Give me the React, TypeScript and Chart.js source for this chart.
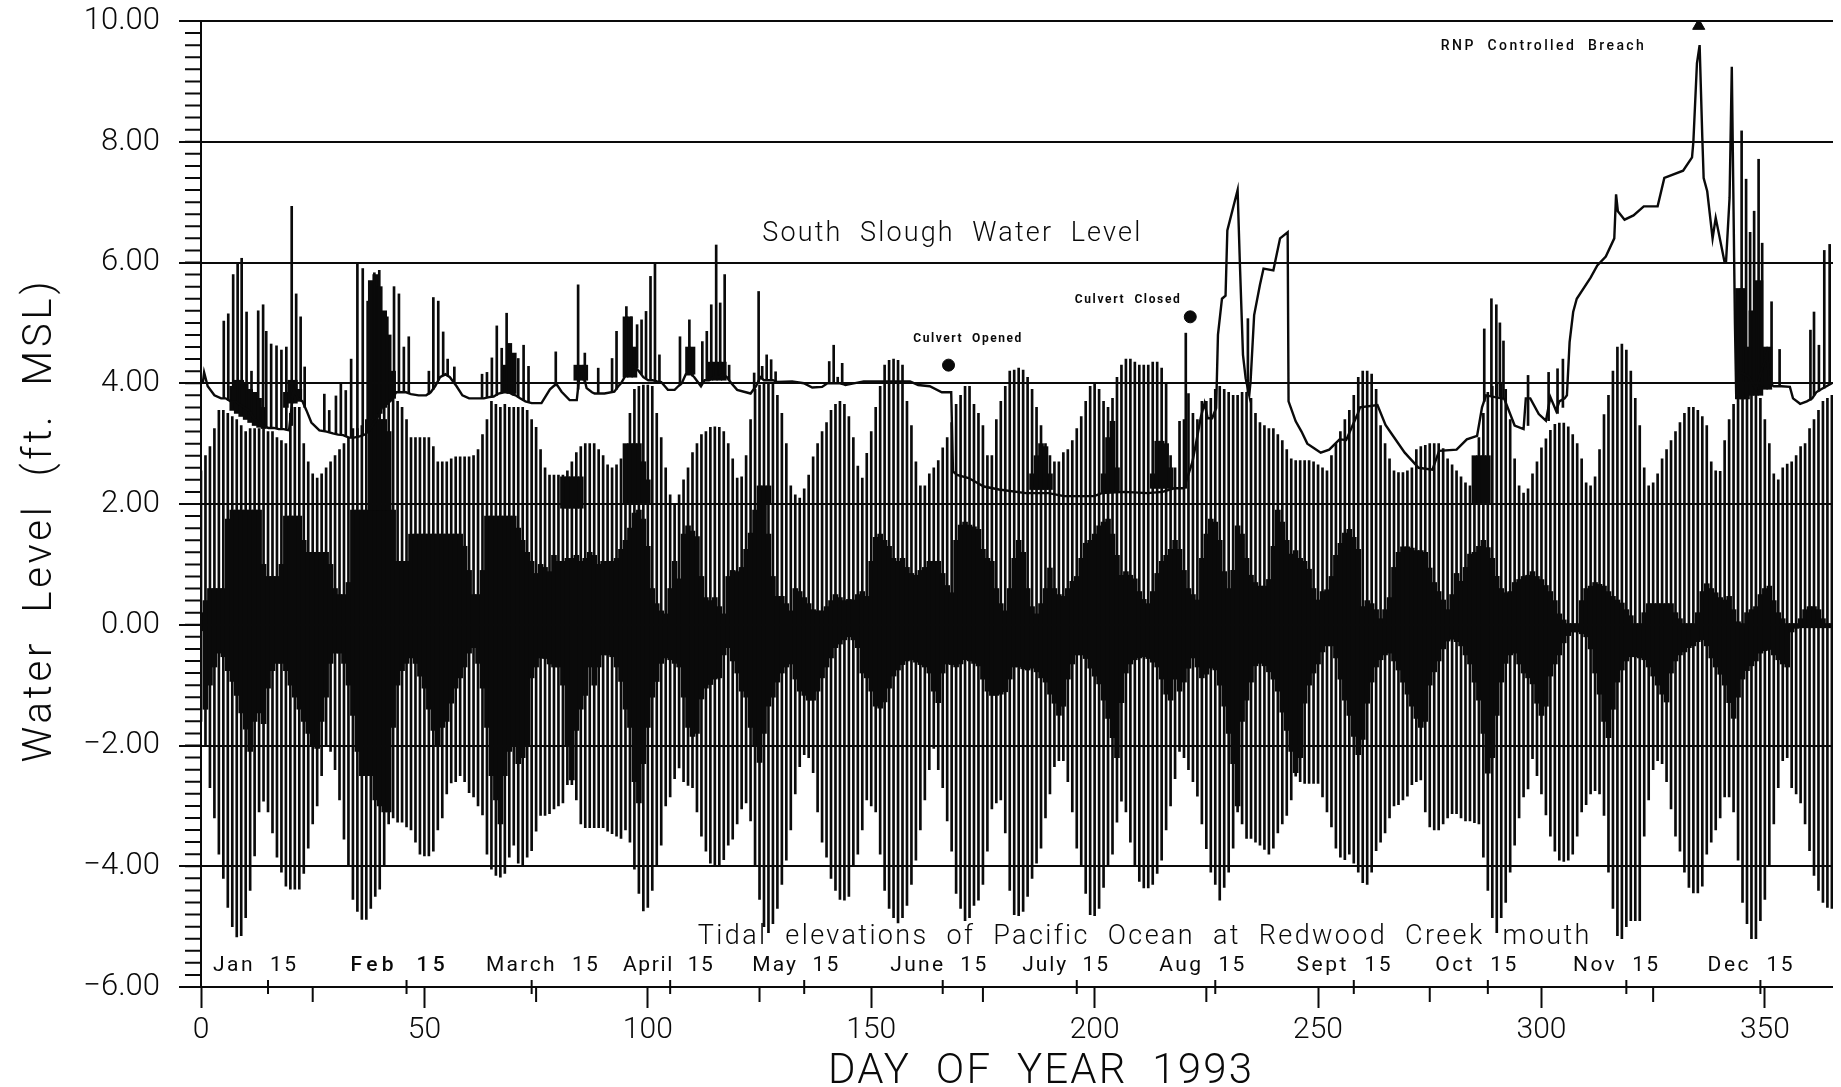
import React, { useEffect, useRef } from "react";
import { Chart, registerables } from "chart.js";

Chart.register(...registerables);

// Upper and lower reach of the tidal trace, one reading per day of year (rows of ten days).
const tideHigh = [
  2.55,2.8,2.95,3.25,3.55,3.55,3.5,3.45,3.4,3.3,
  3.2,3.25,3.25,3.25,3.25,3.2,3.2,3.1,3.05,3,
  3.5,3.6,3.6,3,2.7,2.5,2.43,2.5,2.6,2.7,
  2.8,2.9,3,3.1,3.25,3.25,3.3,3.4,3.55,3.6,
  3.6,3.7,3.8,3.8,3.7,3.6,3.4,3.1,3.1,3.1,
  3.1,3.1,2.95,2.7,2.7,2.7,2.75,2.78,2.78,2.78,
  2.78,2.8,2.9,3.15,3.4,3.7,3.65,3.6,3.65,3.6,
  3.6,3.6,3.6,3.55,3.4,3.27,2.9,2.6,2.48,2.48,
  2.48,2.48,2.55,2.7,2.85,2.95,3,3,3,2.9,
  2.8,2.65,2.6,2.65,2.75,2.9,3.5,3.9,3.95,3.97,
  3.97,3.95,3.5,3.1,2.6,2.15,2,2.15,2.4,2.6,
  2.85,3,3.15,3.2,3.27,3.28,3.27,3.2,3,2.75,
  2.43,2.45,2.8,3.4,3.9,3.97,4,4,4,3.8,
  3.5,3,2.3,2.15,2.1,2.25,2.48,2.78,3,3.2,
  3.35,3.55,3.65,3.7,3.65,3.45,3.1,2.63,2.43,2.84,
  3.2,3.6,3.95,4.3,4.38,4.4,4.38,4.3,3.7,3.3,
  2.7,2.3,2.3,2.5,2.6,2.72,2.93,3.1,3.35,3.65,
  3.8,3.95,3.95,3.65,3.5,3.3,2.8,2.8,3.4,3.7,
  3.95,4.2,4.22,4.25,4.22,4.1,3.9,3.6,3.3,3,
  2.8,2.7,2.7,2.85,2.9,3.05,3.25,3.45,3.7,3.95,
  4,3.9,3.7,3.6,3.75,4.1,4.3,4.4,4.4,4.35,
  4.3,4.3,4.3,4.35,4.35,4.25,4,2.8,2.6,3.37,
  3.4,3.83,3.5,3.4,3.7,3.7,3.75,3.9,3.95,3.9,
  3.85,3.8,3.8,3.85,3.85,3.75,3.5,3.35,3.3,3.25,
  3.25,3.15,3.05,2.9,2.75,2.72,2.72,2.72,2.72,2.7,
  2.65,2.6,2.55,2.8,3,3.2,3.4,3.55,3.8,4.1,
  4.2,4.2,4.15,3.9,3.3,3,2.75,2.55,2.52,2.52,
  2.55,2.6,2.9,2.95,2.97,3,3,3,2.92,2.75,
  2.65,2.55,2.45,2.35,2.3,2.45,3.1,3.5,3.85,3.95,
  4,4,3.9,3.4,2.75,2.3,2.18,2.25,2.5,2.7,
  2.93,3.08,3.22,3.32,3.34,3.34,3.28,3.15,3,2.75,
  2.35,2.3,2.45,2.9,3.48,3.8,4.2,4.6,4.65,4.55,
  4.2,3.75,3.3,2.6,2.3,2.35,2.5,2.75,2.9,3.05,
  3.2,3.35,3.5,3.6,3.6,3.55,3.45,3.3,2.7,2.55,
  2.54,3.05,3.4,3.65,3.9,4,4,4,3.95,3.75,
  3.4,3,2.5,2.4,2.6,2.66,2.7,2.8,2.95,3,
  3.25,3.4,3.55,3.7,3.75,3.8,
];

const tideLow = [
  -1.6,-2,-2.7,-3.2,-3.8,-4.2,-4.68,-5,-5.17,-5.15,
  -4.85,-4.4,-3.83,-3.1,-2.92,-3.1,-3.45,-3.85,-4.1,-4.33,
  -4.38,-4.38,-4.38,-4.12,-3.7,-3.3,-3,-2.5,-2,-2.1,
  -2.4,-2.9,-3.55,-4,-4.55,-4.75,-4.88,-4.88,-4.7,-4.5,
  -4.38,-4,-3.3,-3.2,-3.27,-3.27,-3.35,-3.4,-3.6,-3.8,
  -3.83,-3.83,-3.75,-3.4,-3.2,-2.8,-2.62,-2.6,-2.5,-2.6,
  -2.78,-2.85,-3,-3.15,-3.8,-4.05,-4.15,-4.18,-4.12,-3.85,
  -3.65,-3.95,-4,-3.85,-3.74,-3.42,-3.16,-3.16,-3.13,-3.05,
  -3,-2.95,-2.65,-2.65,-2.9,-3.3,-3.36,-3.36,-3.36,-3.36,
  -3.36,-3.42,-3.46,-3.5,-3.54,-3.4,-3.6,-4.05,-4.45,-4.74,
  -4.68,-4.4,-4,-3.65,-3,-2.85,-2.55,-2.37,-2.6,-2.66,
  -2.7,-3.1,-3.5,-3.75,-3.95,-3.98,-3.98,-3.89,-3.65,-3.55,
  -3.3,-3.05,-2.95,-3.25,-4,-4.55,-5,-5.1,-4.95,-4.7,
  -4.3,-3.9,-3.4,-2.8,-2.35,-2.15,-2.2,-2.45,-3.1,-3.6,
  -3.85,-4.2,-4.4,-4.55,-4.56,-4.5,-4,-3.8,-3.4,-2.9,
  -3,-3.1,-3.8,-4.4,-4.7,-4.85,-4.94,-4.85,-4.65,-4.3,
  -3.9,-3.4,-2.9,-2.4,-2.05,-2.4,-2.7,-3.25,-3.75,-4.45,
  -4.7,-4.9,-4.85,-4.65,-4.56,-4.3,-3.75,-3.05,-2.95,-2.9,
  -3.45,-4.4,-4.8,-4.82,-4.75,-4.5,-4.2,-3.95,-3.7,-3.2,
  -2.8,-2.35,-2.25,-2.25,-2.6,-3.1,-3.7,-4,-4.45,-4.8,
  -4.82,-4.7,-4.35,-4,-3.8,-3.27,-2.92,-3.1,-3.6,-4,
  -4.25,-4.36,-4.36,-4.3,-4.12,-3.9,-3.4,-3,-2.55,-2.1,
  -2.2,-2.4,-2.6,-2.84,-3.3,-3.71,-4.1,-4.3,-4.56,-4.35,
  -4.1,-3.7,-3.1,-3.3,-3.54,-3.54,-3.6,-3.65,-3.72,-3.8,
  -3.7,-3.45,-3.3,-3.16,-2.9,-2.51,-2.6,-2.63,-2.63,-2.63,
  -2.63,-2.85,-3.1,-3.35,-3.7,-3.85,-3.89,-3.8,-3.95,-4.1,
  -4.27,-4.3,-4.1,-3.74,-3.6,-3.45,-3.2,-3,-2.98,-2.9,
  -2.84,-2.65,-2.6,-2.57,-3.1,-3.35,-3.4,-3.4,-3.3,-3.2,
  -3.13,-3.13,-3.2,-3.25,-3.25,-3.28,-3.3,-3.85,-4.4,-4.85,
  -5.1,-4.85,-4.6,-4.1,-3.65,-3.2,-2.85,-2.72,-2.22,-2.5,
  -2.8,-3.15,-3.5,-3.75,-3.9,-3.92,-3.9,-3.8,-3.5,-3.1,
  -2.98,-2.8,-2.75,-2.8,-3.16,-4.1,-4.7,-5.15,-5.2,-5,
  -4.9,-4.9,-4.9,-3.5,-2.9,-2.4,-2.25,-2.3,-2.6,-3.05,
  -3.5,-3.75,-4.1,-4.35,-4.44,-4.44,-4.33,-3.8,-3.6,-3.4,
  -3.2,-2.85,-2.85,-3.1,-3.9,-4.6,-4.95,-5.2,-5.2,-4.9,
  -4.55,-4,-3.3,-2.7,-2.25,-2.2,-2.7,-2.8,-2.95,-3.3,
  -3.74,-4.15,-4.4,-4.6,-4.68,-4.7,
];

// Solid black core of the tidal trace, one reading per day of year.
const coreHigh = [
  0.2,0.4,0.6,0.6,0.6,0.6,1.75,1.9,1.9,1.9,
  1.9,1.9,1.9,1.9,1,0.8,0.8,0.8,1,1.8,
  1.8,1.8,1.8,1.4,1.2,1.2,1.2,1.2,1.2,1,
  0.6,0.5,0.5,0.7,1.9,1.9,1.9,1.9,1.9,1.9,
  1.9,1.9,1.9,1.9,1.05,1.05,1.05,1.5,1.5,1.5,
  1.5,1.5,1.5,1.5,1.5,1.5,1.5,1.5,1.5,1.3,
  0.9,0.5,0.5,0.9,1.8,1.8,1.8,1.8,1.8,1.8,
  1.8,1.6,1.4,1.2,1.05,0.85,1,0.95,0.88,1.15,
  1.05,1.05,1.1,1.1,1.15,1.05,1.1,1.2,1.15,1,
  1.05,1.05,1.05,1.1,1.25,1.4,1.6,1.85,1.9,1.75,
  1.3,0.6,0.35,0.23,0.18,0.6,1.05,0.76,1.5,1.64,
  1.55,1.46,0.8,0.45,0.4,0.45,0.3,0.18,0.8,0.9,
  0.88,0.95,1.25,1.52,1.9,2,2.2,1.5,0.8,0.47,
  0.47,0.35,0.23,0.6,0.55,0.45,0.35,0.25,0.23,0.23,
  0.3,0.4,0.5,0.45,0.4,0.42,0.41,0.5,0.55,0.47,
  1.05,1.45,1.5,1.4,1.3,1.1,1.05,1.1,0.95,0.85,
  0.82,0.9,0.95,1.05,1.05,1.05,0.85,0.65,0.53,1.4,
  1.65,1.7,1.65,1.62,1.58,1.25,1.1,1.05,0.6,0.35,
  0.23,0.6,1.1,1.4,1.2,0.6,0.3,0.18,0.35,0.6,
  0.94,0.6,0.5,0.47,0.6,0.72,0.8,1.1,1.35,1.4,
  1.5,1.64,1.7,1.75,1.5,1.15,0.82,0.88,0.82,0.76,
  0.55,0.42,0.35,0.55,0.85,1.05,1.15,1.25,1.4,1.25,
  0.9,0.6,0.5,0.41,1.1,1.5,1.75,1.7,1.4,0.88,
  0.6,0.9,1.64,1.5,1.1,0.82,0.7,0.64,0.64,0.75,
  1.3,1.9,1.7,1.4,1.17,1.23,1.1,1.05,0.92,0.6,
  0.41,0.55,0.58,0.8,1.15,1.35,1.52,1.58,1.45,1.25,
  0.3,0.4,0.35,0.25,0.1,0.25,0.45,0.95,1.2,1.29,
  1.29,1.27,1.23,1.23,1.2,0.94,0.7,0.55,0.41,0.25,
  0.5,0.85,0.72,0.95,1.17,1.2,1.3,1.4,1.28,1.1,
  0.8,0.6,0.53,0.55,0.7,0.75,0.8,0.82,0.88,0.8,
  0.75,0.65,0.55,0.4,0.18,0.08,0.02,0.02,0.02,0.4,
  0.6,0.64,0.7,0.67,0.64,0.55,0.47,0.41,0.36,0.25,
  0.15,0.02,0.02,0.2,0.35,0.35,0.35,0.35,0.35,0.35,
  0.2,0.1,0.02,0.02,0.02,0.2,0.55,0.68,0.6,0.53,
  0.45,0.41,0.47,0.25,0.05,0.02,0.2,0.25,0.3,0.5,
  0.6,0.64,0.4,0.2,0.1,0.02,0.02,0.02,0.1,0.25,
  0.3,0.3,0.25,0.1,0.02,0.02,
];

const coreLow = [
  -0.1,-1.4,-1,-0.7,-0.47,-0.53,-0.76,-0.94,-1.17,-1.46,
  -1.73,-2.1,-1.6,-1.46,-1.64,-1.05,-0.76,-0.64,-0.64,-0.76,
  -1,-1.2,-1.4,-1.6,-1.8,-2,-2.05,-1.6,-1.2,-0.64,
  -0.47,-0.47,-0.64,-1,-1.5,-2.1,-2.5,-2.5,-2.5,-2.9,
  -3,-3.1,-3.1,-1.7,-1,-0.76,-0.64,-0.55,-0.64,-0.85,
  -1.05,-1.4,-1.75,-2,-1.7,-1.6,-1.3,-1.05,-0.88,-0.7,
  -0.47,-0.38,-0.64,-1.05,-1.7,-2.5,-2.9,-3.3,-2.5,-2.1,
  -2,-2.3,-2.2,-2,-0.88,-0.7,-0.55,-0.56,-0.65,-0.7,
  -0.7,-1,-2,-2.57,-1.75,-1.4,-1.17,-0.7,-1,-0.7,
  -0.5,-0.5,-0.53,-0.7,-0.94,-1.4,-1.7,-2.6,-2.95,-2.3,
  -1.7,-1.2,-0.94,-0.64,-0.55,-0.58,-0.64,-0.7,-1.2,-1.7,
  -1.85,-1.8,-1.23,-1.05,-0.99,-0.9,-0.88,-0.5,-0.38,-0.6,
  -0.8,-1.1,-1.2,-1.7,-2,-2.28,-1.8,-1.35,-1.2,-0.95,
  -0.8,-0.7,-0.65,-0.9,-1.1,-1.17,-1.25,-1.25,-1.1,-0.88,
  -0.7,-0.55,-0.38,-0.32,-0.25,-0.2,-0.25,-0.38,-0.8,-0.88,
  -1.1,-1.35,-1.38,-1.28,-1.05,-0.85,-0.75,-0.66,-0.6,-0.58,
  -0.62,-0.66,-0.7,-0.8,-1.1,-1.29,-0.8,-0.65,-0.66,-0.7,
  -0.65,-0.58,-0.6,-0.64,-0.68,-0.9,-1.1,-1.17,-1.17,-1.15,
  -1.11,-0.9,-0.7,-0.7,-0.73,-0.75,-0.72,-0.78,-0.88,-0.95,
  -1.15,-1.3,-1.5,-1.35,-0.9,-0.65,-0.5,-0.5,-0.56,-0.72,
  -0.85,-0.98,-1.25,-1.55,-1.87,-2.2,-1.29,-0.8,-0.65,-0.58,
  -0.55,-0.53,-0.56,-0.62,-0.7,-0.9,-1.15,-1.25,-0.9,-1.1,
  -0.95,-0.72,-0.55,-0.7,-0.88,-0.82,-0.72,-0.75,-1,-1.35,
  -1.8,-2.3,-3,-1.6,-1.25,-0.95,-0.68,-0.64,-0.68,-0.78,
  -0.9,-1.1,-1.45,-1.75,-2.1,-2.45,-2.2,-1.3,-1,-0.8,
  -0.65,-0.45,-0.35,-0.35,-0.55,-0.9,-1.25,-1.5,-1.85,-2.15,
  -1.9,-1.3,-0.95,-0.7,-0.58,-0.5,-0.47,-0.6,-0.75,-0.95,
  -1.15,-1.35,-1.55,-1.7,-1.6,-1,-0.78,-0.6,-0.4,-0.27,
  -0.24,-0.28,-0.35,-0.5,-0.65,-0.95,-1.25,-1.8,-2.46,-2.2,
  -1.5,-0.95,-0.64,-0.5,-0.47,-0.65,-0.8,-0.88,-0.98,-1.3,
  -1.5,-1.35,-0.85,-0.65,-0.5,-0.3,-0.18,-0.12,-0.12,-0.15,
  -0.2,-0.4,-0.8,-1.15,-1.6,-1.87,-1.4,-0.95,-0.75,-0.6,
  -0.53,-0.53,-0.55,-0.58,-0.7,-0.85,-1,-1.15,-1.28,-0.8,
  -0.6,-0.5,-0.45,-0.38,-0.35,-0.28,-0.25,-0.35,-0.55,-0.7,
  -0.82,-1,-1.29,-1.55,-1.2,-0.9,-0.76,-0.68,-0.6,-0.47,
  -0.43,-0.41,-0.5,-0.58,-0.65,-0.7,-0.12,-0.06,-0.05,-0.05,
  -0.05,-0.05,-0.05,-0.05,-0.05,-0.05,
];

// South Slough water level: the running trace, in time order.
const sloughDays = [
  0.4,0.7,1.5,3,4.5,5.5,6.6,7.7,8.6,9.6,10.7,12,13.3,14.2,15.1,16.3,17.4,18.5,19.7,20.7,21.7,22.7,23.6,24.7,26.5,28.1,29.5,30.7,31.8,33.1,34.2,35.5,36.7,37.8,39.3,40.5,42.3,43.7,44.9,45.9,47,48.7,50.4,51.4,52.4,53.5,54.7,55.7,57.2,58.5,60,62,63.3,64.5,65.5,66.6,67.8,68.9,69.6,70.4,71.4,72.6,74,76.2,78.1,79.2,79.7,80.7,82.5,84.1,84.8,85.4,86.3,87.5,88.1,89.3,90.3,92.5,93.4,94,95.6,96.8,98,99,100.1,101.1,102.1,103,104.5,106,106.8,107.6,108.5,109.7,110.4,111.9,112.7,113.7,114.7,115.8,116.7,117.7,118.7,120,123,124.2,125.2,126,127,128,129,132.3,134.9,136.8,139,140.2,141,142,143,143.9,144.2,148.3,158.7,160.5,163.1,165.8,167.9,168.3,169.2,171.8,175.2,178.6,184.6,189.7,193.1,199.9,201.6,206.7,211.8,215.2,217.8,220,221.9,222.5,223.8,224.6,225.3,226.3,227.2,227.6,228.5,229.3,229.7,232,232.5,233.2,233.8,234.6,234.9,235.7,237,237.8,240,241.5,243.2,243.4,245,246.3,247.6,249.2,250.6,252.5,254.8,256.3,258.9,259.4,263.3,265.1,266.3,269.4,272.5,275.6,277.1,281,283.3,285.6,286.7,287.6,291.7,294,296,296.5,297.5,299.4,301,302,303.3,304,305.2,305.7,306.3,307.1,307.9,311,312.5,314.4,316.3,316.7,317.1,318.6,320.6,322.9,326,327.5,331.7,333.7,334,334.8,335.4,336,336.3,337.1,338.3,339,341,341.3,342.1,342.6,343.3,343.6,344.3,346.5,348,350.5,351,352,353.7,355.6,356.3,357.9,359.4,360.6,361.5,362.6,363.8,365,
];
const sloughLevels = [
  4,4.18,3.95,3.8,3.75,3.75,3.7,3.7,3.65,3.6,3.55,3.4,3.35,3.28,3.26,3.26,3.24,3.24,3.22,3.9,3.75,3.7,3.55,3.35,3.22,3.2,3.17,3.15,3.14,3.1,3.1,3.12,3.15,3.23,3.4,3.6,3.7,3.85,3.85,3.85,3.82,3.8,3.8,3.85,3.95,4.1,4.15,4.1,3.95,3.8,3.75,3.75,3.75,3.77,3.78,3.83,3.85,3.85,3.82,3.8,3.75,3.7,3.67,3.67,3.9,3.97,3.97,3.86,3.72,3.72,4.2,4.2,3.92,3.85,3.83,3.83,3.83,3.86,3.95,4,4.2,4.28,4.2,4.1,4.05,4.05,4.03,4.02,3.89,3.89,3.95,4,4.15,4.15,4.1,3.95,4.05,4.05,4.1,4.1,4.15,4.1,4,3.89,3.83,3.95,4.1,4.05,4.05,4.05,4.02,4.03,4,3.93,3.94,4,4,4,4,3.98,3.97,4.03,4.03,3.97,3.95,3.85,3.85,2.54,2.48,2.43,2.29,2.24,2.18,2.18,2.13,2.13,2.18,2.2,2.18,2.2,2.26,2.26,2.7,2.93,3.45,3.67,3.42,3.42,3.59,4.8,5.4,5.45,6.53,7.2,6,4.47,4.08,3.8,4.03,5.13,5.63,5.9,5.87,6.4,6.5,3.7,3.37,3.2,3,2.92,2.85,2.9,3.07,3.06,3.5,3.6,3.64,3.31,3.18,2.85,2.6,2.57,2.88,2.9,3.07,3.13,3.6,3.8,3.74,3.3,3.24,3.75,3.75,3.49,3.38,3.77,3.54,3.7,3.75,3.8,4.68,5.18,5.4,5.75,5.95,6.1,6.4,7.13,6.85,6.71,6.78,6.93,6.93,7.4,7.52,7.74,8,9.3,9.6,8.07,7.4,7.18,6.4,6.74,6,6,7.07,9.24,5,3.74,4.2,4.1,3.9,4.5,4,3.95,3.95,3.94,3.75,3.66,3.7,3.75,3.85,3.9,3.95,4,
];

// Thin spikes rising from the slough trace: day, foot and top.
const spikeDays = [5.1,6.1,7.2,8.2,9.1,10.2,11.3,12.8,13.9,14.6,15.7,16.9,18,19.1,20.3,21.3,22.3,23.2,27.6,28.7,30.2,31.3,32.4,33.6,35,36.2,37.3,38.8,39.9,41.7,43.2,44.3,45.4,46.5,51,52,53.1,54.2,55.2,56.7,62.9,64,65.1,66.2,67.3,68.4,70,71,72.2,73.3,79.4,84.4,85.9,88.9,92,93,95.2,96.3,97.6,98.6,99.6,100.6,101.6,102.6,107.2,109.3,110,112.2,113.2,114.2,115.3,116.2,117.2,118.2,123.8,124.8,125.6,126.6,127.6,128.6,140.6,141.6,142.5,143.5,220.4,234.3,287.2,288.8,289.9,290.7,291.5,297,301.6,303.6,304.8,344.8,345.8,346.7,347.6,348.6,349.4,351.5,353.3,360.2,361,362.1,363.3,364.5];
const spikeFoot = [3.75,3.72,3.7,3.67,3.62,3.57,3.5,3.38,3.3,3.27,3.26,3.25,3.24,3.23,3.3,3.8,3.72,3.6,3.2,3.2,3.16,3.15,3.12,3.1,3.11,3.13,3.2,3.35,3.5,3.65,3.8,3.85,3.85,3.83,3.82,3.9,4.05,4.12,4.12,4,3.75,3.76,3.78,3.8,3.84,3.85,3.8,3.77,3.72,3.68,3.97,3.9,4,3.83,3.85,3.9,4.15,4.25,4.25,4.15,4.08,4.05,4.04,4.02,3.97,4.15,4.12,4,4.05,4.08,4.1,4.12,4.12,4.05,3.9,4,4.08,4.05,4.05,4.03,4,4,4,3.99,2.26,3.85,3.7,3.8,3.8,3.78,3.75,3.3,3.38,3.5,3.6,4,4,4,3.95,3.9,3.95,3.97,3.95,3.72,3.8,3.87,3.92,3.98];
const spikeTop = [5.03,5.15,5.8,6,6.07,5.18,4.2,5.2,5.3,4.86,4.65,4.62,4.55,4.6,6.93,5.48,5.1,4.27,3.82,3.55,3.79,4,3.88,4.4,6,5.9,5.36,5.83,5.87,5.1,5.6,5.48,4.6,4.77,4.2,5.42,5.36,4.85,4.4,4.27,4.15,4.18,4.42,4.95,4.58,5.16,4.44,4.41,4.63,4.28,4.52,5.63,4.5,4.25,4.41,4.86,5.27,5.1,4.97,5.05,5.19,5.77,5.99,4.47,4.77,5.05,4.58,4.69,4.86,5.3,6.29,5.33,5.8,4.3,4.17,5.52,4.28,4.47,4.39,4.19,4.36,4.63,4.1,4.33,4.83,5.07,4.9,5.4,5.3,5,4.7,4.13,4.18,4.24,4.4,8.18,7.38,6.5,6.85,7.71,6.32,5.35,4.56,4.88,5.18,4.63,6.2,6.3];

// Places where the traces overprint into a solid block.
const blockDays = [7,8,9,10,11,12,13,14,19,20,21,22,38,39,40,41,42,43,38,39,40,41,42,68,69,70,81,82,83,84,85,84,85,86,95,96,97,95,96,97,98,99,100,109,110,114,115,116,117,125,126,127,186,187,188,189,190,202,203,204,205,213,214,215,216,217,285,286,287,288,344,345,346,347,348,349,350,351];
const blockLow = [3.55,3.5,3.45,3.4,3.35,3.3,3.27,3.25,3.6,3.67,3.67,3.7,3.4,3.4,3.5,3.6,3.7,3.75,1.9,1.9,1.9,1.9,1.9,3.85,3.83,3.83,1.93,1.93,1.93,1.93,1.93,4.05,4.05,4.05,4.1,4.1,4.1,2,2,2,2,2,2,4.15,4.15,4.05,4.05,4.05,4.05,2,2,2,2.24,2.24,2.24,2.24,2.24,2.2,2.2,2.2,2.2,2.26,2.26,2.26,2.26,2.26,2,2,2,2,3.74,3.74,3.74,3.8,3.8,3.8,3.9,3.9];
const blockHigh = [3.95,4.05,4.05,4,3.9,3.85,3.75,3.6,3.85,4.05,4.05,3.9,5.7,5.8,5.6,5.2,4.8,4.2,3.4,3.4,3.4,3.4,3.2,4.3,4.66,4.5,2.45,2.45,2.45,2.45,2.45,4.3,4.3,4.3,5.1,5.1,4.6,3,3,3,3,2.7,2.4,4.6,4.6,4.35,4.35,4.35,4.35,2.3,2.3,2.3,2.5,2.8,3,2.95,2.5,2.5,3.1,3.37,2.6,2.5,3.04,3.04,3,2.6,2.8,2.8,2.8,2.8,5.57,5.57,4.6,5.2,5.7,5.7,4.6,4.6];

const eventDays = [167.3, 221.4];
const eventLevels = [4.3, 5.1];
const breachDay = 335.2;
const breachLevel = 9.92;

const xMajor = [0, 50, 100, 150, 200, 250, 300, 350];
const xEnd = 365.25;
const xMinor = [25, 75, 125, 175, 225, 275, 325];
const monthMarks = [15, 46, 74, 105, 135, 166, 196, 227, 258, 288, 319, 349];
const monthNames = ["Jan  15", "Feb  15", "March  15", "April  15", "May  15", "June  15", "July  15", "Aug  15", "Sept  15", "Oct  15", "Nov  15", "Dec  15"];
const monthLabelDays = [12, 44, 76.3, 104.5, 133, 165, 193.4, 224, 255.7, 285.3, 316.6, 346.7];
const monthLabelWidths = [83, 94, 112, 90, 86, 96, 86, 85, 94, 81, 85, 85];

const notes = [
  { text: "South  Slough  Water  Level", day: 167.9, level: 6.47, width: 378, font: "300 27px Roboto" },
  { text: "Tidal  elevations  of  Pacific  Ocean  at  Redwood  Creek  mouth", day: 210.9, level: -5.17, width: 891, font: "300 27px Roboto" },
  { text: "Culvert  Opened", day: 171.5, level: 4.73, width: 108, font: "700 12px Roboto" },
  { text: "Culvert  Closed", day: 207.3, level: 5.38, width: 105, font: "700 12px Roboto" },
  { text: "RNP  Controlled  Breach", day: 300.2, level: 9.57, width: 203, font: "500 14px Roboto" },
];

const INK = "#0a0a0a";

function spacedText(ctx: any, text: string, cx: number, cy: number, width: number) {
  ctx.letterSpacing = "0px";
  const natural = ctx.measureText(text).width;
  const gap = (width - natural) / Math.max(1, text.length - 1);
  ctx.letterSpacing = `${gap}px`;
  ctx.textAlign = "left";
  ctx.textBaseline = "middle";
  ctx.fillText(text, cx - width / 2, cy);
  ctx.letterSpacing = "0px";
}

const annotations = {
  id: "annotations",
  afterDraw(chart: any) {
    const { ctx, scales } = chart;
    const x = scales.x;
    const y = scales.y;
    const base = y.getPixelForValue(-6);
    const axisX = x.getPixelForValue(0);
    ctx.save();
    ctx.strokeStyle = INK;
    ctx.fillStyle = INK;
    ctx.lineWidth = 2;

    ctx.beginPath();
    ctx.moveTo(axisX, y.getPixelForValue(10));
    ctx.lineTo(axisX, base);
    for (let v = -6; v <= 10.001; v += 0.2) {
      const p = y.getPixelForValue(v);
      ctx.moveTo(axisX, p);
      ctx.lineTo(axisX - 16, p);
    }
    xMinor.forEach((d) => {
      const p = x.getPixelForValue(d);
      ctx.moveTo(p, base);
      ctx.lineTo(p, base + 15);
    });
    monthMarks.forEach((d) => {
      const p = x.getPixelForValue(d);
      ctx.moveTo(p, base - 7);
      ctx.lineTo(p, base + 7);
    });
    ctx.stroke();

    monthNames.forEach((name, i) => {
      ctx.font = name.startsWith("Feb") ? "500 21px Roboto" : "400 21px Roboto";
      spacedText(ctx, name, x.getPixelForValue(monthLabelDays[i]), y.getPixelForValue(-5.64), monthLabelWidths[i]);
    });
    notes.forEach((n) => {
      ctx.font = n.font;
      spacedText(ctx, n.text, x.getPixelForValue(n.day), y.getPixelForValue(n.level), n.width);
    });

    ctx.font = "300 42px Roboto";
    spacedText(ctx, "DAY  OF  YEAR  1993", 1040, 1072, 424);
    ctx.translate(41, 522);
    ctx.rotate(-Math.PI / 2);
    ctx.font = "300 40px Roboto";
    spacedText(ctx, "Water  Level  (ft.  MSL)", 0, 0, 481);
    ctx.restore();
  },
};

export default function App() {
  const ref = useRef<HTMLCanvasElement | null>(null);

  useEffect(() => {
    document.body.style.margin = "0";
    document.body.style.overflow = "hidden";
    const canvas = ref.current!;
    const chart = new Chart(canvas, {
      type: "bar",
      plugins: [annotations],
      data: {
        datasets: [
          {
            type: "bar",
            label: "Tidal elevations of Pacific Ocean at Redwood Creek mouth",
            data: tideHigh.map((h, i) => ({ x: i, y: [tideLow[i], h] })),
            backgroundColor: INK,
            borderWidth: 0,
            barThickness: 2,
            grouped: false,
            order: 5,
          },
          {
            type: "bar",
            label: "Tidal core",
            data: coreHigh.map((h, i) => ({ x: i, y: [coreLow[i], h] })),
            backgroundColor: INK,
            borderWidth: 0,
            barThickness: 5,
            grouped: false,
            order: 4,
          },
          {
            type: "bar",
            label: "Overprinted blocks",
            data: blockDays.map((d, i) => ({ x: d, y: [blockLow[i], blockHigh[i]] })),
            backgroundColor: INK,
            borderWidth: 0,
            barThickness: 5,
            grouped: false,
            order: 3,
          },
          {
            type: "bar",
            label: "Slough spikes",
            data: spikeDays.map((d, i) => ({ x: d, y: [spikeFoot[i], spikeTop[i]] })),
            backgroundColor: INK,
            borderWidth: 0,
            barThickness: 2,
            grouped: false,
            order: 2,
          },
          {
            type: "line",
            label: "South Slough Water Level",
            data: sloughDays.map((d, i) => ({ x: d, y: sloughLevels[i] })),
            borderColor: INK,
            borderWidth: 2.4,
            pointRadius: 0,
            tension: 0,
            order: 1,
          },
          {
            type: "scatter",
            label: "Culvert events",
            data: eventDays.map((d, i) => ({ x: d, y: eventLevels[i] })),
            backgroundColor: INK,
            borderColor: INK,
            pointRadius: 6,
            pointStyle: "circle",
            order: 0,
          },
          {
            type: "scatter",
            label: "RNP Controlled Breach",
            data: [{ x: breachDay, y: breachLevel }],
            backgroundColor: INK,
            borderColor: INK,
            pointRadius: 7,
            pointStyle: "triangle",
            order: 0,
          },
        ] as any,
      },
      options: {
        responsive: false,
        animation: false,
        devicePixelRatio: 1,
        layout: { padding: { top: 21, right: 0, left: 0, bottom: 0 } },
        plugins: { legend: { display: false }, title: { display: false }, tooltip: { enabled: false } },
        scales: {
          x: {
            type: "linear",
            offset: false,
            min: 0,
            max: xEnd,
            afterFit: (s: any) => { s.height = 100; s.paddingLeft = 0; s.paddingRight = 0; },
            afterBuildTicks: (s: any) => { s.ticks = [...xMajor, xEnd].map((value) => ({ value })); },
            border: { display: false },
            grid: {
              offset: false,
              drawOnChartArea: false,
              drawTicks: true,
              tickLength: 21,
              tickWidth: 2,
              tickColor: (c: any) => (c.tick && c.tick.value === xEnd ? "rgba(0,0,0,0)" : INK),
            },
            ticks: {
              autoSkip: false,
              maxRotation: 0,
              padding: 4,
              color: INK,
              font: { family: "Roboto", size: 30, weight: "300" },
              callback: (v: any) => (v === xEnd ? "" : String(v)),
            },
          },
          y: {
            type: "linear",
            min: -6,
            max: 10,
            afterFit: (s: any) => { s.width = 201; s.paddingTop = 0; s.paddingBottom = 0; },
            border: { display: false },
            grid: { color: INK, lineWidth: 2, z: 1, tickLength: 22, tickColor: INK, tickWidth: 2 },
            ticks: {
              stepSize: 2,
              padding: 19,
              color: INK,
              font: { family: "Roboto", size: 31, weight: "300" },
              callback: (v: any) => (Number(v) < 0 ? "\u2212" : "") + Math.abs(Number(v)).toFixed(2),
            },
          },
        },
      } as any,
    });
    return () => chart.destroy();
  }, []);

  return <canvas ref={ref} width={1841} height={1087} style={{ display: "block" }} />;
}
